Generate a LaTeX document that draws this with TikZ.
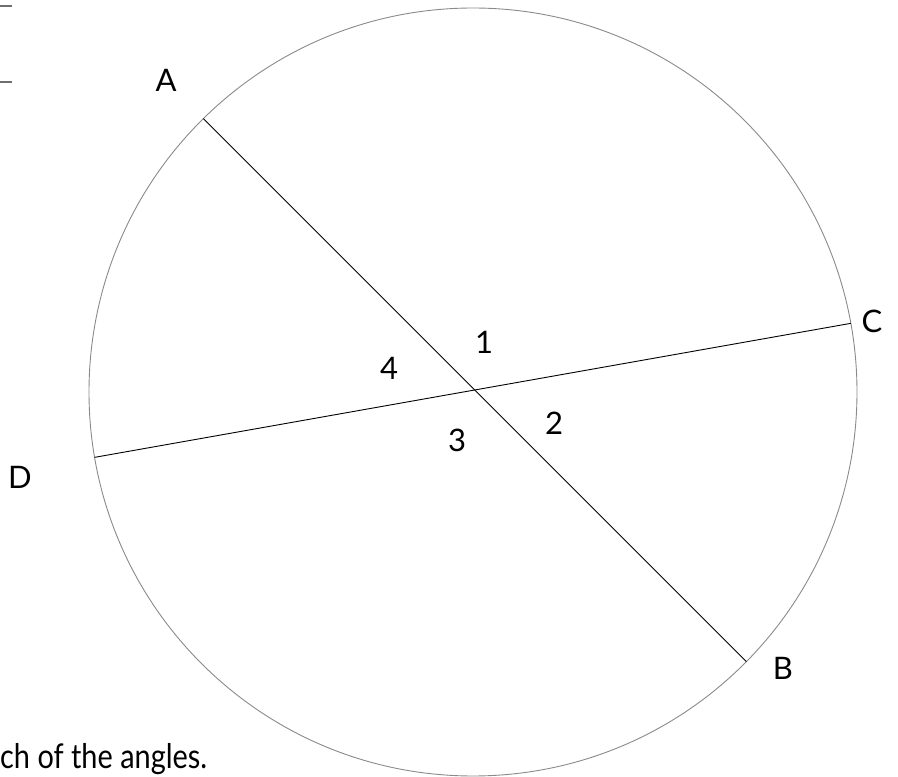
\documentclass[tikz,border=0pt]{standalone}
\usepackage{fontspec}
\setmainfont{Lato}
\usepackage{tikz}
\usetikzlibrary{calc,positioning}
\definecolor{rimgray}{HTML}{8A8A8A}
\definecolor{tickgray}{HTML}{6E6E6E}
\tikzset{
    every node/.style={font=\fontsize{31}{36}\selectfont,inner sep=0pt},
    rim/.style={draw=rimgray,line width=0.9pt},
    chord/.style={draw=black,line width=0.9pt},
    tick/.style={draw=tickgray,line width=2pt},
    ptlabel/.style={anchor=center},
    anglabel/.style={anchor=center},
    prompt/.style={anchor=base west,font=\fontsize{34}{40}\selectfont,xscale=0.85,transform shape}
}
\begin{document}
\begin{tikzpicture}[x=1pt,y=1pt]
\useasboundingbox (0,0) rectangle (898,777);
\coordinate (O) at (473,385);
\def\rad{384}
\draw[rim] (O) circle (\rad);
\coordinate (ptA) at ($(O)+(134.6:\rad)$);
\coordinate (ptB) at ($(O)+(-44.6:\rad)$);
\coordinate (ptC) at ($(O)+(10.3:\rad)$);
\coordinate (ptD) at ($(O)+(189.8:\rad)$);
\draw[chord] (ptA) -- (ptB);
\draw[chord] (ptD) -- (ptC);
\node[ptlabel] (labA) at (166,697) {A};
\node[ptlabel] (labB) at (783,109) {B};
\node[ptlabel] (labC) at (872,456) {C};
\node[ptlabel] (labD) at (20,300) {D};
\node[anglabel] (ang1) at (484,435) {1};
\node[anglabel] (ang2) at (554,354) {2};
\node[anglabel] (ang3) at (457,337) {3};
\node[anglabel] (ang4) at (389,409) {4};
\coordinate (tkA) at (0,771);
\coordinate (tkB) at (0,695);
\draw[tick] (tkA) -- ++(12,0);
\draw[tick] (tkB) -- ++(12,0);
\node[prompt] (task) at (0,8) {ch of the angles.};
\end{tikzpicture}
\end{document}
